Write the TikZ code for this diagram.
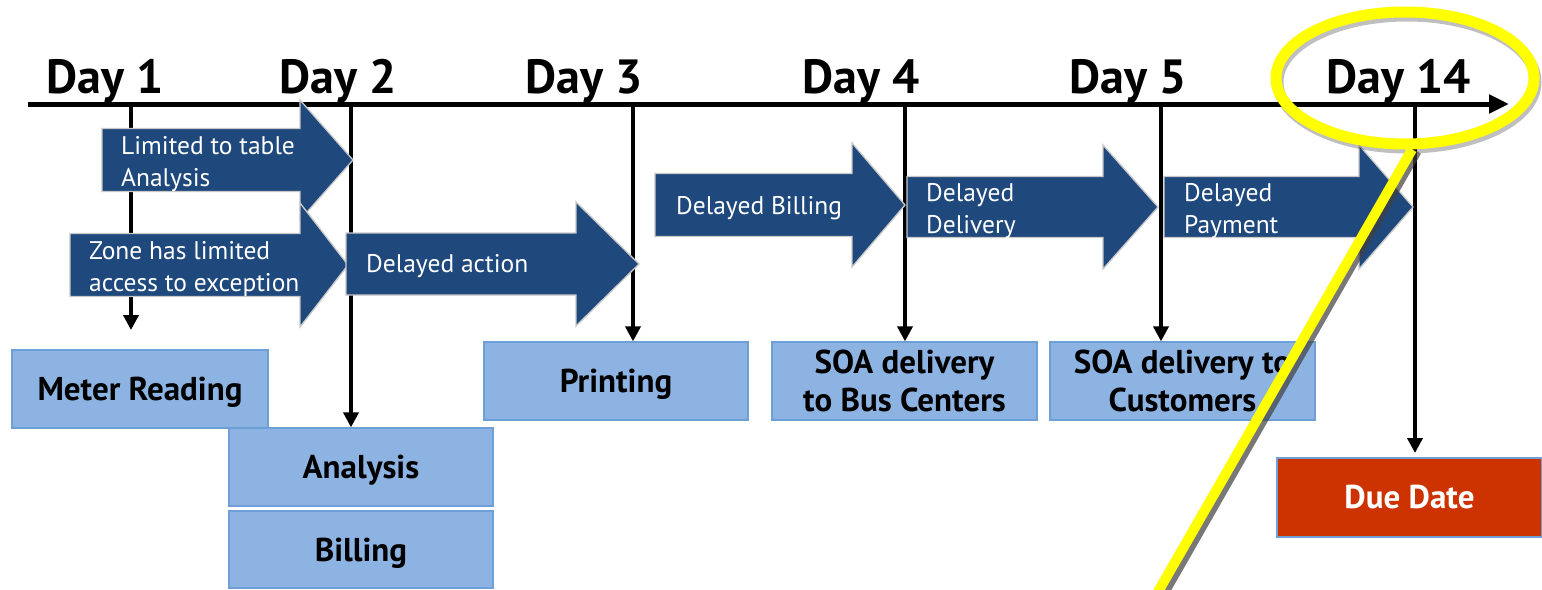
\documentclass[tikz,border=0pt]{standalone}
\usepackage{fontspec}
\setmainfont{PT Sans}
\usetikzlibrary{arrows.meta,shapes.geometric}
\definecolor{darkblue}{HTML}{1F497D}
\definecolor{arrowedge}{HTML}{C8C8C8}
\definecolor{lightblue}{HTML}{8DB3E2}
\definecolor{boxedge}{HTML}{6F9FD8}
\definecolor{duered}{HTML}{CC3300}
\definecolor{hiyellow}{HTML}{FFFF00}
\tikzset{
  daytext/.style={font=\fontsize{48}{50}\selectfont\bfseries, anchor=base, inner sep=0},
  timeline/.style={line width=5pt, -{Triangle[length=20pt,width=18pt]}},
  dayline/.style={line width=4.5pt, -{Triangle[length=15pt,width=15pt]}},
  blockarrow/.style={fill=darkblue, draw=arrowedge, line width=1.3pt},
  arrowtext/.style={font=\fontsize{25.5}{32}\selectfont, text=white, anchor=west, align=left, inner sep=0},
  lightbox/.style={fill=lightblue, draw=boxedge, line width=1.3pt, inner sep=0,
    font=\fontsize{33}{38}\selectfont\bfseries, align=center},
  duebox/.style={fill=duered, draw=boxedge, line width=1.3pt, inner sep=0, text=white,
    font=\fontsize{33}{38}\selectfont\bfseries, align=center},
}
\newcommand\barrowpath[6]{%
  \path[blockarrow] (#1,{#4-#5}) -- (#2,{#4-#5}) -- (#2,{#4-#6}) -- (#3,#4)
    -- (#2,{#4+#6}) -- (#2,{#4+#5}) -- (#1,{#4+#5}) -- cycle;}
\begin{document}
\begin{tikzpicture}[x=1pt,y=-1pt]
\useasboundingbox (0,0) rectangle (1542,589);
\fill[white] (0,0) rectangle (1542,589);

% day labels
\node[daytext] (day1) at (105,93) {Day 1};
\node[daytext] (day2) at (338,93) {Day 2};
\node[daytext] (day3) at (584,93) {Day 3};
\node[daytext] (day4) at (861,93) {Day 4};
\node[daytext] (day5) at (1128,93) {Day 5};
\node[daytext] (day14) at (1399,93) {Day 14};

% timeline
\coordinate (tlstart) at (28,104);
\coordinate (tlend) at (1509,104);
\draw[timeline] (tlstart) -- (tlend);

\coordinate (t1) at (131,104);
\coordinate (t2) at (351,104);
\coordinate (t3) at (633,104);
\coordinate (t4) at (905,104);
\coordinate (t5) at (1161,104);
\coordinate (t14) at (1415,104);
\coordinate (e1) at (131,330);
\coordinate (e14) at (1415,453);

% boxes
\node[lightbox, text depth=0pt, minimum width=256, minimum height=78] (meter) at (140,389) {Meter Reading};
\node[lightbox, text depth=0pt, minimum width=264, minimum height=78] (analysis) at (361,467) {Analysis};
\node[lightbox, text depth=0pt, minimum width=264, minimum height=77] (billing) at (361,549.5) {Billing};
\node[lightbox, text depth=0pt, minimum width=264, minimum height=78] (printing) at (616,381) {Printing};
\node[lightbox, minimum width=265, minimum height=78] (soabus) at (904.5,381) {SOA delivery\\to Bus Centers};
\node[lightbox, minimum width=265, minimum height=78] (soacust) at (1182.5,381) {SOA delivery to\\Customers};
\node[duebox, minimum width=265, minimum height=79] (due) at (1409.5,497.5) {Due Date};

% day lines
\draw[dayline] (t1) -- (e1);
\draw[dayline] (t2) -- (t2 |- analysis.north);
\draw[dayline] (t3) -- (t3 |- printing.north);
\draw[dayline] (t4) -- (t4 |- soabus.north);
\draw[dayline] (t5) -- (t5 |- soacust.north);
\draw[dayline] (t14) -- (e14);

% block arrows
\barrowpath{102}{300}{353}{160}{31.5}{60}
\node[arrowtext] (a1) at (121,164) {Limited to table\\Analysis};
\barrowpath{70}{300}{348}{265}{31.5}{62}
\node[arrowtext] (a2) at (89,269) {Zone has limited\\access to exception};
\barrowpath{346}{576}{639}{264}{31}{62}
\node[arrowtext] (a3) at (366,266) {Delayed action};
\barrowpath{655}{852}{905}{205}{31.5}{62}
\node[arrowtext] (a4) at (676,208) {Delayed Billing};
\barrowpath{907}{1103}{1158}{207}{30.5}{62}
\node[arrowtext] (a5) at (926,211) {Delayed\\Delivery};
\barrowpath{1164}{1359}{1413}{207}{30.5}{62}
\node[arrowtext] (a6) at (1184,211) {Delayed\\Payment};

% yellow highlight
\draw[black, opacity=0.25, line width=11pt] (1407,82) ellipse [x radius=129, y radius=66];
\node[draw=hiyellow, line width=11pt, ellipse, minimum width=258, minimum height=132, inner sep=0] (callout) at (1405,78) {};
\coordinate (pointer) at (1155,597);
\draw[black!75, opacity=0.7, line width=9pt] ([shift={(12,2)}]callout.south) -- ([shift={(6,2)}]pointer);
\draw[hiyellow, line width=10pt] (callout.south) ++(7,0) -- (pointer);
\end{tikzpicture}
\end{document}
